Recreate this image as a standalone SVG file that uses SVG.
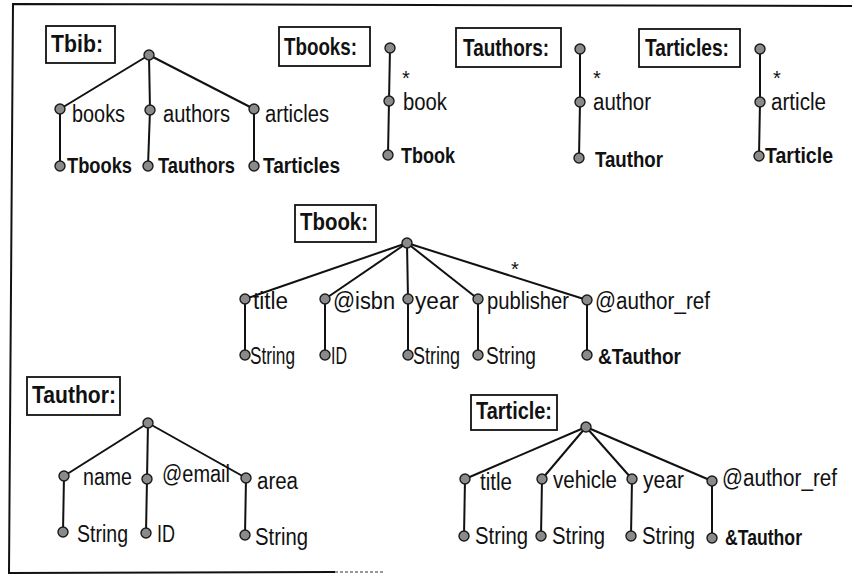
<svg xmlns="http://www.w3.org/2000/svg" width="852" height="575" viewBox="0 0 852 575">
  <style>
    text { font-family: "Liberation Sans", Arial, sans-serif; fill: #111; }
    .lbl { font-size: 23px; }
    .typ { font-size: 22px; font-weight: bold; }
    .ttl { font-size: 23px; font-weight: bold; }
    .star { font-size: 20px; }
    .box { fill: #fff; stroke: #111; stroke-width: 1.8; }
    .e { stroke: #111; stroke-width: 2; fill: none; }
    .n { fill: #8a8a8a; stroke: #1a1a1a; stroke-width: 1.4; }
    .frame { stroke: #111; stroke-width: 2; fill: none; }
  </style>
  <defs>
    <circle id="dot" r="5" class="n"/>
  </defs>
  <rect width="852" height="575" fill="#fff"/>

  <!-- page frame -->
  <g id="frame">
    <polyline class="frame" points="852,6 13,4 9,573 335,572"/>
    <line x1="335" y1="572" x2="383" y2="572" stroke="#777" stroke-width="1.5" stroke-dasharray="3 2"/>
  </g>

  <!-- connectors -->
  <g id="edges" class="e">
    <!-- Tbib -->
    <line x1="149" y1="55" x2="60" y2="109"/>
    <line x1="149" y1="55" x2="150" y2="110"/>
    <line x1="149" y1="55" x2="254" y2="109"/>
    <line x1="60" y1="109" x2="60" y2="166"/>
    <line x1="150" y1="110" x2="148" y2="166"/>
    <line x1="254" y1="109" x2="254" y2="166"/>
    <!-- Tbooks -->
    <line x1="390" y1="48" x2="389" y2="101"/>
    <line x1="389" y1="101" x2="388" y2="155"/>
    <!-- Tauthors -->
    <line x1="580" y1="49" x2="580" y2="102"/>
    <line x1="580" y1="102" x2="579" y2="158"/>
    <!-- Tarticles -->
    <line x1="760" y1="49" x2="760" y2="102"/>
    <line x1="760" y1="102" x2="759" y2="156"/>
    <!-- Tbook -->
    <line x1="407" y1="243" x2="245" y2="299"/>
    <line x1="407" y1="243" x2="325" y2="299"/>
    <line x1="407" y1="243" x2="408" y2="299"/>
    <line x1="407" y1="243" x2="478" y2="299"/>
    <line x1="407" y1="243" x2="587" y2="300"/>
    <line x1="245" y1="299" x2="245" y2="355"/>
    <line x1="325" y1="299" x2="325" y2="355"/>
    <line x1="408" y1="299" x2="408" y2="355"/>
    <line x1="478" y1="299" x2="478" y2="355"/>
    <line x1="587" y1="300" x2="587" y2="355"/>
    <!-- Tauthor -->
    <line x1="148" y1="423" x2="64" y2="476"/>
    <line x1="148" y1="423" x2="147" y2="479"/>
    <line x1="148" y1="423" x2="246" y2="478"/>
    <line x1="64" y1="476" x2="63" y2="532"/>
    <line x1="147" y1="479" x2="146" y2="533"/>
    <line x1="246" y1="478" x2="245" y2="535"/>
    <!-- Tarticle -->
    <line x1="586" y1="427" x2="465" y2="479"/>
    <line x1="586" y1="427" x2="542" y2="479"/>
    <line x1="586" y1="427" x2="632" y2="479"/>
    <line x1="586" y1="427" x2="712" y2="481"/>
    <line x1="465" y1="479" x2="464" y2="536"/>
    <line x1="542" y1="479" x2="541" y2="536"/>
    <line x1="632" y1="479" x2="631" y2="536"/>
    <line x1="712" y1="481" x2="712" y2="538"/>
  </g>

  <!-- Tbib -->
  <g id="tbib">
    <rect class="box" x="46" y="26" width="69" height="37"/>
    <text class="ttl" x="51" y="52" textLength="52" lengthAdjust="spacingAndGlyphs">Tbib:</text>
    <use href="#dot" x="149" y="55"/>
    <use href="#dot" x="60" y="109"/>
    <use href="#dot" x="150" y="110"/>
    <use href="#dot" x="254" y="109"/>
    <use href="#dot" x="60" y="166"/>
    <use href="#dot" x="148" y="166"/>
    <use href="#dot" x="254" y="166"/>
    <text class="lbl" x="72" y="122" textLength="53" lengthAdjust="spacingAndGlyphs">books</text>
    <text class="lbl" x="163" y="122" textLength="67" lengthAdjust="spacingAndGlyphs">authors</text>
    <text class="lbl" x="265" y="122" textLength="64" lengthAdjust="spacingAndGlyphs">articles</text>
    <text class="typ" x="67" y="173" textLength="65" lengthAdjust="spacingAndGlyphs">Tbooks</text>
    <text class="typ" x="158" y="173" textLength="77" lengthAdjust="spacingAndGlyphs">Tauthors</text>
    <text class="typ" x="263" y="173" textLength="77" lengthAdjust="spacingAndGlyphs">Tarticles</text>
  </g>

  <!-- Tbooks -->
  <g id="tbooks">
    <rect class="box" x="279" y="27" width="91" height="39"/>
    <text class="ttl" x="284" y="55" textLength="73" lengthAdjust="spacingAndGlyphs">Tbooks:</text>
    <use href="#dot" x="390" y="48"/>
    <use href="#dot" x="389" y="101"/>
    <use href="#dot" x="388" y="155"/>
    <text class="star" x="402" y="85">*</text>
    <text class="lbl" x="403" y="110" textLength="44" lengthAdjust="spacingAndGlyphs">book</text>
    <text class="typ" x="401" y="163" textLength="54" lengthAdjust="spacingAndGlyphs">Tbook</text>
  </g>

  <!-- Tauthors -->
  <g id="tauthors">
    <rect class="box" x="456" y="28" width="105" height="39"/>
    <text class="ttl" x="463" y="56" textLength="86" lengthAdjust="spacingAndGlyphs">Tauthors:</text>
    <use href="#dot" x="580" y="49"/>
    <use href="#dot" x="580" y="102"/>
    <use href="#dot" x="579" y="158"/>
    <text class="star" x="593" y="85">*</text>
    <text class="lbl" x="593" y="110" textLength="58" lengthAdjust="spacingAndGlyphs">author</text>
    <text class="typ" x="595" y="167" textLength="68" lengthAdjust="spacingAndGlyphs">Tauthor</text>
  </g>

  <!-- Tarticles -->
  <g id="tarticles">
    <rect class="box" x="639" y="29" width="101" height="38"/>
    <text class="ttl" x="645" y="56" textLength="84" lengthAdjust="spacingAndGlyphs">Tarticles:</text>
    <use href="#dot" x="760" y="49"/>
    <use href="#dot" x="760" y="102"/>
    <use href="#dot" x="759" y="156"/>
    <text class="star" x="773" y="85">*</text>
    <text class="lbl" x="771" y="110" textLength="55" lengthAdjust="spacingAndGlyphs">article</text>
    <text class="typ" x="765" y="163" textLength="68" lengthAdjust="spacingAndGlyphs">Tarticle</text>
  </g>

  <!-- Tbook -->
  <g id="tbook">
    <rect class="box" x="295" y="205" width="81" height="37"/>
    <text class="ttl" x="300" y="230" textLength="68" lengthAdjust="spacingAndGlyphs">Tbook:</text>
    <use href="#dot" x="407" y="243"/>
    <use href="#dot" x="245" y="299"/>
    <use href="#dot" x="325" y="299"/>
    <use href="#dot" x="408" y="299"/>
    <use href="#dot" x="478" y="299"/>
    <use href="#dot" x="587" y="300"/>
    <use href="#dot" x="245" y="355"/>
    <use href="#dot" x="325" y="355"/>
    <use href="#dot" x="408" y="355"/>
    <use href="#dot" x="478" y="355"/>
    <use href="#dot" x="587" y="355"/>
    <text class="star" x="511" y="276">*</text>
    <text class="lbl" x="253" y="309" textLength="35" lengthAdjust="spacingAndGlyphs">title</text>
    <text class="lbl" x="333" y="309" textLength="62" lengthAdjust="spacingAndGlyphs">@isbn</text>
    <text class="lbl" x="415" y="309" textLength="44" lengthAdjust="spacingAndGlyphs">year</text>
    <text class="lbl" x="487" y="309" textLength="82" lengthAdjust="spacingAndGlyphs">publisher</text>
    <text class="lbl" x="595" y="309" textLength="115" lengthAdjust="spacingAndGlyphs">@author_ref</text>
    <text class="lbl" x="250" y="364" textLength="45" lengthAdjust="spacingAndGlyphs">String</text>
    <text class="lbl" x="331" y="364" textLength="16" lengthAdjust="spacingAndGlyphs">ID</text>
    <text class="lbl" x="413" y="364" textLength="47" lengthAdjust="spacingAndGlyphs">String</text>
    <text class="lbl" x="486" y="364" textLength="50" lengthAdjust="spacingAndGlyphs">String</text>
    <text class="typ" x="598" y="364" textLength="83" lengthAdjust="spacingAndGlyphs">&amp;Tauthor</text>
  </g>

  <!-- Tauthor -->
  <g id="tauthor">
    <rect class="box" x="27" y="377" width="93" height="38"/>
    <text class="ttl" x="32" y="403" textLength="84" lengthAdjust="spacingAndGlyphs">Tauthor:</text>
    <use href="#dot" x="148" y="423"/>
    <use href="#dot" x="64" y="476"/>
    <use href="#dot" x="147" y="479"/>
    <use href="#dot" x="246" y="478"/>
    <use href="#dot" x="63" y="532"/>
    <use href="#dot" x="146" y="533"/>
    <use href="#dot" x="245" y="535"/>
    <text class="lbl" x="83" y="485" textLength="49" lengthAdjust="spacingAndGlyphs">name</text>
    <text class="lbl" x="162" y="482" textLength="68" lengthAdjust="spacingAndGlyphs">@email</text>
    <text class="lbl" x="257" y="489" textLength="41" lengthAdjust="spacingAndGlyphs">area</text>
    <text class="lbl" x="77" y="542" textLength="51" lengthAdjust="spacingAndGlyphs">String</text>
    <text class="lbl" x="157" y="542" textLength="18" lengthAdjust="spacingAndGlyphs">ID</text>
    <text class="lbl" x="255" y="545" textLength="53" lengthAdjust="spacingAndGlyphs">String</text>
  </g>

  <!-- Tarticle -->
  <g id="tarticle">
    <rect class="box" x="471" y="395" width="86" height="35"/>
    <text class="ttl" x="476" y="419" textLength="76" lengthAdjust="spacingAndGlyphs">Tarticle:</text>
    <use href="#dot" x="586" y="427"/>
    <use href="#dot" x="465" y="479"/>
    <use href="#dot" x="542" y="479"/>
    <use href="#dot" x="632" y="479"/>
    <use href="#dot" x="712" y="481"/>
    <use href="#dot" x="464" y="536"/>
    <use href="#dot" x="541" y="536"/>
    <use href="#dot" x="631" y="536"/>
    <use href="#dot" x="712" y="538"/>
    <text class="lbl" x="480" y="490" textLength="32" lengthAdjust="spacingAndGlyphs">title</text>
    <text class="lbl" x="553" y="488" textLength="64" lengthAdjust="spacingAndGlyphs">vehicle</text>
    <text class="lbl" x="643" y="488" textLength="41" lengthAdjust="spacingAndGlyphs">year</text>
    <text class="lbl" x="722" y="486" textLength="115" lengthAdjust="spacingAndGlyphs">@author_ref</text>
    <text class="lbl" x="475" y="544" textLength="53" lengthAdjust="spacingAndGlyphs">String</text>
    <text class="lbl" x="552" y="544" textLength="53" lengthAdjust="spacingAndGlyphs">String</text>
    <text class="lbl" x="642" y="544" textLength="53" lengthAdjust="spacingAndGlyphs">String</text>
    <text class="typ" x="725" y="545" textLength="77" lengthAdjust="spacingAndGlyphs">&amp;Tauthor</text>
  </g>
</svg>
